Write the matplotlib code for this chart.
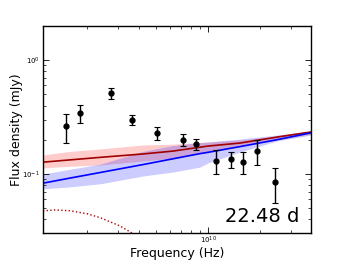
import numpy as np
import matplotlib
matplotlib.use("Agg")
import matplotlib.pyplot as plt

# observed points
freq = [1.51e9, 1.82e9, 2.75e9, 3.64e9, 5.07e9, 7.17e9, 8.5e9,
        1.11e10, 1.36e10, 1.59e10, 1.92e10, 2.44e10]
flux = [0.264, 0.343, 0.514, 0.298, 0.229, 0.199, 0.183,
        0.130, 0.135, 0.127, 0.159, 0.085]
flux_err = [0.076, 0.065, 0.055, 0.030, 0.032, 0.024, 0.022,
            0.031, 0.022, 0.028, 0.038, 0.029]

# model 1 (red)
red_f = [1.11e9, 1.59e9, 2.38e9, 4.21e9, 6.28e9, 1.0e10, 1.53e10, 2.5e10, 3.94e10]
red_mid = [0.127, 0.133, 0.140, 0.150, 0.159, 0.176, 0.187, 0.211, 0.234]
red_hi = [0.147, 0.158, 0.166, 0.180, 0.183, 0.191, 0.199, 0.215, 0.238]
red_lo = [0.113, 0.117, 0.120, 0.130, 0.138, 0.156, 0.176, 0.199, 0.224]

# model 2 (blue)
blue_f = [1.11e9, 1.59e9, 2.38e9, 4.21e9, 6.28e9, 8.99e9, 1.0e10, 1.53e10, 2.5e10, 3.94e10]
blue_mid = [0.083, 0.092, 0.103, 0.121, 0.136, 0.151, 0.155, 0.174, 0.200, 0.230]
blue_hi = [0.100, 0.110, 0.122, 0.158, 0.178, 0.189, 0.191, 0.203, 0.220, 0.238]
blue_lo = [0.074, 0.077, 0.082, 0.096, 0.104, 0.115, 0.125, 0.156, 0.195, 0.220]

# free-free component (dotted)
ff_f = [1.11e9, 1.31e9, 1.59e9, 2.0e9, 2.38e9, 3.1e9, 3.63e9, 4.5e9]
ff_flux = [0.0474, 0.0483, 0.0475, 0.0447, 0.0413, 0.0349, 0.0303, 0.025]

epoch = "22.48 d"

fig = plt.figure(figsize=(3.46, 2.6), dpi=100)
ax = fig.add_axes([0.124, 0.104, 0.775, 0.796])

ax.fill_between(red_f, red_lo, red_hi, color="red", alpha=0.2, lw=0)
ax.fill_between(blue_f, blue_lo, blue_hi, color="blue", alpha=0.2, lw=0)
ax.plot(red_f, red_mid, color="#a00000", lw=1.2)
ax.plot(blue_f, blue_mid, color="blue", lw=1.2)
ax.plot(ff_f, ff_flux, color="#b00000", lw=1, ls=":")

ax.errorbar(freq, flux, yerr=flux_err, fmt="o", color="black", ms=3.5,
            ecolor="black", elinewidth=1, capsize=2, capthick=0.8)

ax.set_xscale("log")
ax.set_yscale("log")
ax.set_xlim(1.11e9, 3.94e10)
ax.set_ylim(0.0303, 2.0)

ax.tick_params(which="both", direction="in", top=True, right=True, labelsize=5, pad=2)
ax.tick_params(axis="x", which="both", pad=1)
ax.tick_params(which="major", length=4, width=0.6)
ax.tick_params(which="minor", length=2, width=0.5)
for s in ax.spines.values():
    s.set_linewidth(1)

ax.set_xlabel("Frequency (Hz)", fontsize=9)
ax.set_ylabel("Flux density (mJy)", fontsize=9)
ax.xaxis.set_label_coords(0.5, -0.066)
ax.yaxis.set_label_coords(-0.075, 0.5)
ax.text(0.955, 0.053, epoch, transform=ax.transAxes, ha="right", va="baseline", fontsize=14)

fig.savefig("out.png", dpi=100)
